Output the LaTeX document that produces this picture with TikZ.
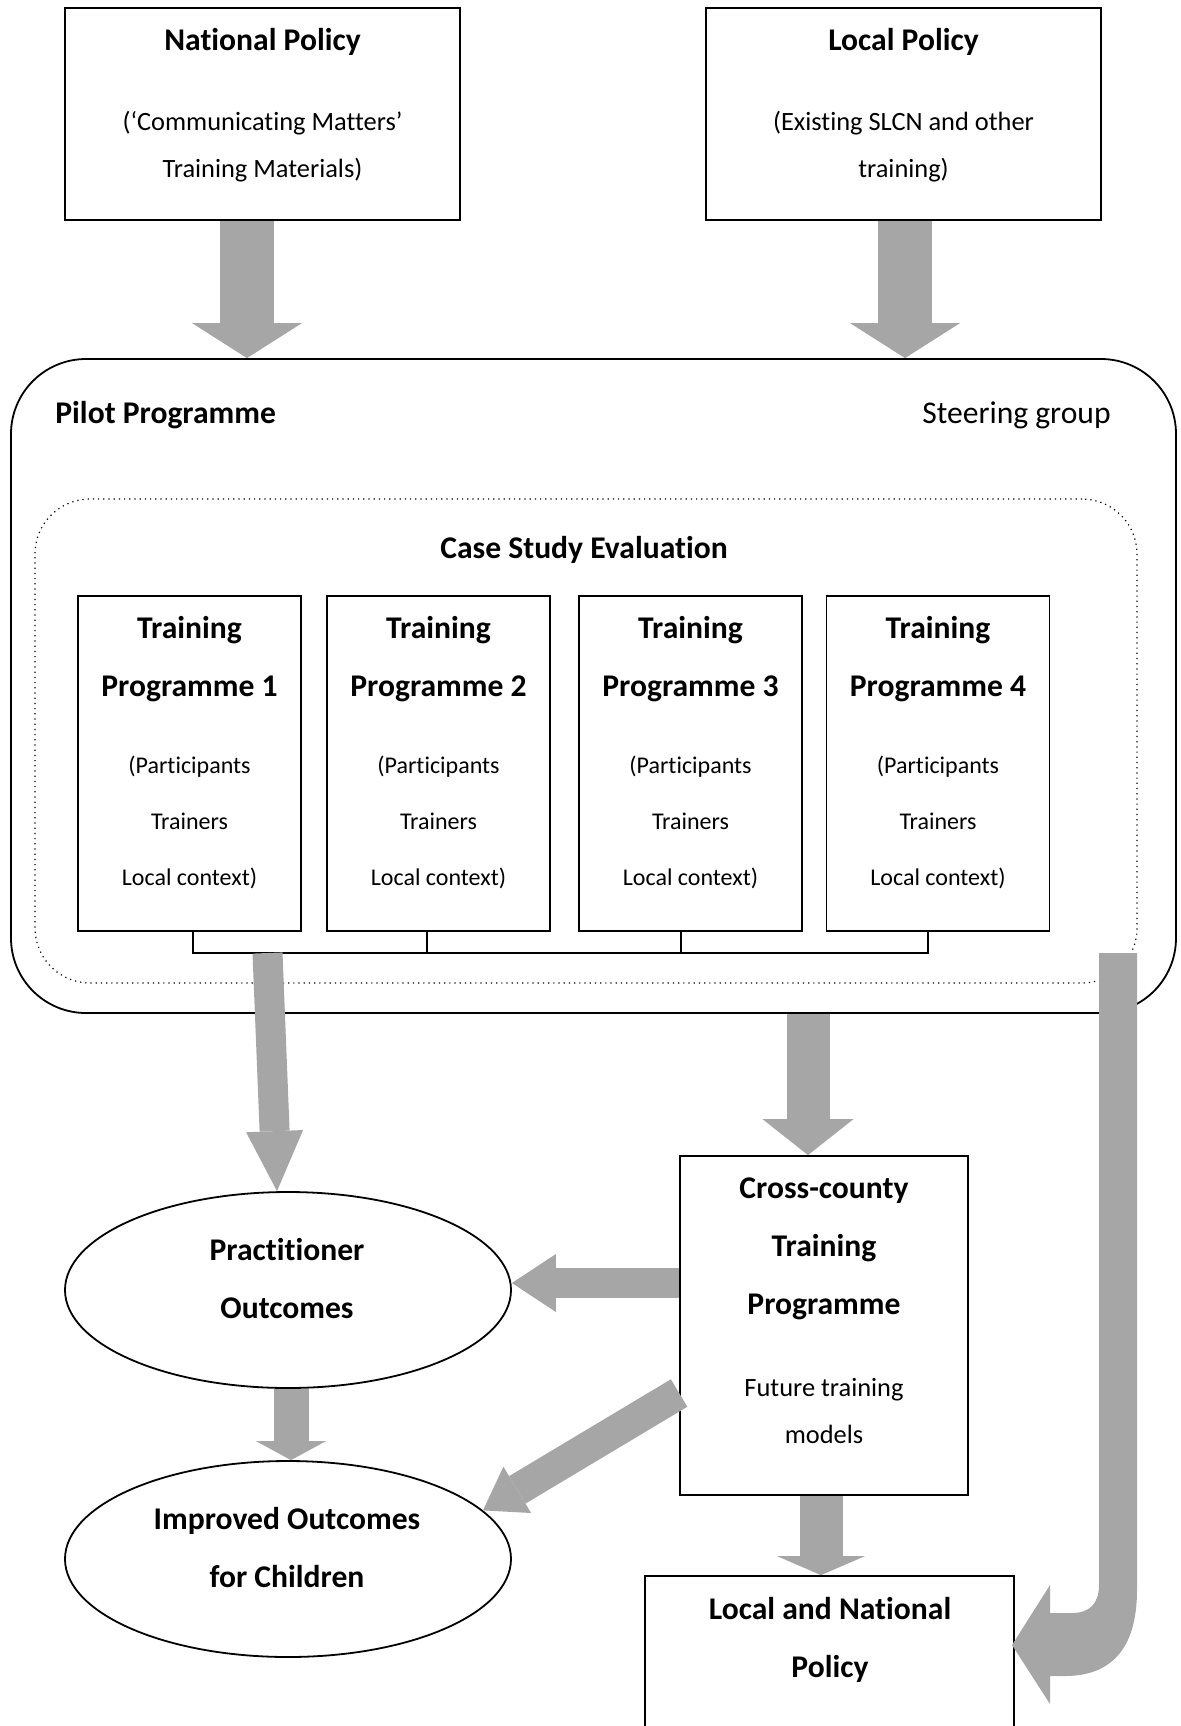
\documentclass[tikz,border=0pt]{standalone}
\usepackage{fontspec}
\setmainfont{Carlito}[Ligatures={NoCommon}]
\usetikzlibrary{arrows.meta,shapes.geometric}
\definecolor{arrowgray}{HTML}{A6A6A6}
\newcommand\HeadFont{\fontsize{15.8pt}{29pt}\selectfont\bfseries}
\newcommand\SteerFont{\fontsize{15.8pt}{29pt}\selectfont}
\newcommand\DescFont{\fontsize{13.2pt}{23.5pt}\selectfont}
\newcommand\SmallFont{\fontsize{12pt}{28pt}\selectfont}
\begin{document}
\begin{tikzpicture}[x=0.5pt,y=-0.5pt]
\tikzset{
  frame/.style={draw=black, line width=0.9pt, inner sep=0pt},
  blk/.style n args={3}{draw=arrowgray, line width=#1, arrowgray,
     -{Triangle[width=#2,length=#3,line width=0pt]}},
  txt/.style={inner sep=0pt, align=center}
}
\useasboundingbox (0,0) rectangle (1180,1726);

% ---- top policy boxes
\node[frame, minimum width=197.5pt, minimum height=106pt] (natpol) at (262.5,114) {};
\node[frame, minimum width=197.5pt, minimum height=106pt] (locpol) at (903.5,114) {};
\node[txt, font=\HeadFont] (natT) at (262.5,42) {National Policy};
\node[txt, font=\DescFont] (natD) at (262.5,147) {(‘Communicating Matters’\\Training Materials)};
\node[txt, font=\HeadFont] (locT) at (903.5,42) {Local Policy};
\node[txt, font=\DescFont] (locD) at (903.5,147) {(Existing SLCN and other\\training)};

% ---- pilot programme
\node[frame, rounded corners=37.5pt, minimum width=582.5pt, minimum height=327pt] (pilot) at (593.5,686) {};
\node[txt, font=\HeadFont, anchor=west] (pilotT) at (55,415) {Pilot Programme};
\node[txt, font=\SteerFont, anchor=east] (steer) at (1111,415) {Steering group};

\node[draw, dotted, line width=0.6pt, rounded corners=27.5pt, minimum width=551pt, minimum height=242pt, inner sep=0pt] (cse) at (586,741) {};
\node[txt, font=\HeadFont] (cseT) at (584,550) {Case Study Evaluation};

\foreach \i/\x in {1/189.5,2/438.5,3/690.5,4/938}{
  \node[frame, minimum width=111.5pt, minimum height=167.5pt] (tp\i) at (\x,763.5) {};
  \node[txt, font=\HeadFont] (tpT\i) at (\x,659) {Training\\Programme \i};
  \node[txt, font=\SmallFont] (tpD\i) at (\x,822) {(Participants\\Trainers\\Local context)};
}

% bracket
\coordinate (busL) at (193,953);
\coordinate (bus2) at (427,953);
\coordinate (bus3) at (681,953);
\coordinate (busR) at (928,953);
\draw[line width=0.8pt] (busL |- tp1.south) -- (busL) -- (busR) -- (busR |- tp4.south);
\draw[line width=0.8pt] (bus2 |- tp2.south) -- (bus2);
\draw[line width=0.8pt] (bus3 |- tp3.south) -- (bus3);

% ---- lower nodes
\node[frame, draw, ellipse, minimum width=223pt, minimum height=98pt] (prac) at (288,1290) {};
\node[txt, font=\HeadFont] (pracT) at (287,1279) {Practitioner\\Outcomes};
\node[frame, draw, ellipse, minimum width=223pt, minimum height=98pt] (impr) at (288,1559) {};
\node[txt, font=\HeadFont] (imprT) at (287,1548) {Improved Outcomes\\for Children};

\node[frame, minimum width=144pt, minimum height=169.5pt] (cross) at (824,1325.5) {};
\node[txt, font=\HeadFont] (crossT) at (824,1248.5) {Cross-county\\Training\\Programme};
\node[txt, font=\DescFont, text depth=0pt] (crossD) at (824,1411) {Future training\\models};

\node[frame, minimum width=184.5pt, minimum height=92pt] (locnat) at (829.5,1668) {};
\node[txt, font=\HeadFont] (locnatT) at (830,1640) {Local and National\\Policy};

% ---- block arrows
\coordinate (a1s) at ([xshift=-7.75pt]natpol.south);
\draw[blk={27pt}{55pt}{17.5pt}] (a1s) -- (a1s |- pilot.north);
\coordinate (a2s) at ([xshift=0.75pt]locpol.south);
\draw[blk={27pt}{55pt}{17.5pt}] (a2s) -- (a2s |- pilot.north);

\coordinate (a3s) at (267.5,953);
\coordinate (a3e) at ([xshift=-5.5pt]prac.north);
\draw[blk={15pt}{28.5pt}{30pt}] (a3s) -- (a3e);

\coordinate (a4e) at ([xshift=-8pt]cross.north);
\draw[blk={21.5pt}{45.5pt}{18pt}] (a4e |- pilot.south) -- (a4e);

\coordinate (a5s) at ([yshift=21.25pt]cross.west);
\draw[blk={15pt}{29pt}{22pt}] (a5s) -- (a5s -| prac.east);

\draw[blk={17.5pt}{35pt}{9.5pt}] ([xshift=1.5pt]prac.south) -- ([xshift=1.5pt]impr.north);

\coordinate (a7s) at ([yshift=-33.75pt]cross.west);
\draw[blk={16pt}{27pt}{20pt}] (a7s) -- (impr.14);

\coordinate (a8s) at ([xshift=-1.5pt]cross.south);
\draw[blk={21.5pt}{44pt}{9.5pt}] (a8s) -- (a8s |- locnat.north);

% U-turn arrow from pilot to local and national policy
\coordinate (u0) at (1118,953);
\coordinate (utip) at (1012,1645);
\fill[arrowgray] (1099,953) -- (1137,953) -- (1137,1590)
   .. controls (1137,1650) and (1110,1676) .. (1065,1676) -- (1050,1676)
   -- (1050,1704) -- (utip) -- (1050,1585) -- (1050,1613) -- (1072,1613)
   .. controls (1090,1613) and (1099,1603) .. (1099,1585) -- cycle;
\end{tikzpicture}
\end{document}
